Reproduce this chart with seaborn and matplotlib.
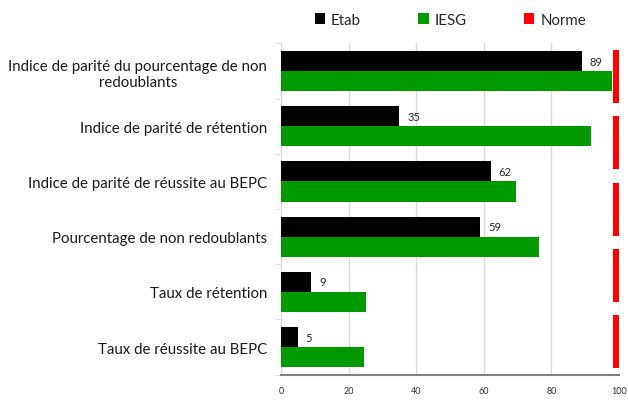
import numpy as np
import pandas as pd
import seaborn as sns
import matplotlib.pyplot as plt
from matplotlib.patches import Patch

# data
categories = [
    "Indice de parité du pourcentage de non\nredoublants",
    "Indice de parité de rétention",
    "Indice de parité de réussite au BEPC",
    "Pourcentage de non redoublants",
    "Taux de rétention",
    "Taux de réussite au BEPC",
]
etab = [89, 35, 62, 59, 9, 5]
iesg = [98, 91.6, 69.5, 76.4, 25.2, 24.6]
# the norm series only has 5 points (own secondary category axis)
norme = [100, 100, 100, 100, 100]
x_ticks = [0, 20, 40, 60, 80, 100]

colors = {"Etab": "#000000", "IESG": "#009900", "Norme": "#ff0000"}

df = pd.DataFrame({
    "categorie": categories * 2,
    "valeur": etab + iesg,
    "serie": ["Etab"] * len(etab) + ["IESG"] * len(iesg),
})

sns.set_style("white")
plt.rcParams["font.family"] = ["Lato", "DejaVu Sans"]

fig = plt.figure(figsize=(6.28, 4.10), dpi=100)
ax = fig.add_axes([0.4475, 0.0837, 0.5382, 0.8078])

sns.barplot(data=df, x="valeur", y="categorie", hue="serie", orient="h",
            order=categories, hue_order=["Etab", "IESG"],
            palette=[colors["Etab"], colors["IESG"]], saturation=1, width=0.73,
            linewidth=0, legend=False, ax=ax, zorder=3)

# value labels on Etab bars
for i, v in enumerate(etab):
    ax.text(v + 2.3, i - 0.18, str(v), va="center", ha="left", fontsize=8,
            color="#262626")

ax.set_xlim(0, 100)
ax.set_ylim(len(categories) - 0.5, -0.5)
ax.set_xticks(x_ticks)
ax.set_xticklabels([str(t) for t in x_ticks], fontsize=6.5, color="#333333")
ax.tick_params(axis="x", length=0, pad=8)
ax.set_yticks(range(len(categories)))
ax.set_yticklabels(categories, fontsize=10.8, color="#1a1a1a")
for lbl in ax.get_yticklabels():
    lbl.set_multialignment("center")
ax.tick_params(axis="y", which="major", length=0, pad=10)
ax.set_yticks(np.arange(-0.5, len(categories)), minor=True)
ax.tick_params(axis="y", which="minor", length=4, color="#d9d9d9", left=True)

ax.xaxis.grid(True, color="#d9d9d9", linewidth=1, zorder=0)
ax.yaxis.grid(False)
ax.set_axisbelow(True)
ax.set_xlabel("")
ax.set_ylabel("")
for s in ["top", "right"]:
    ax.spines[s].set_visible(False)
ax.spines["left"].set_color("#d9d9d9")
ax.spines["bottom"].set_color("#808080")
ax.spines["bottom"].set_linewidth(1.5)

# Norme on its own secondary category axis, thin red marker ending at the norm
ax2 = ax.twinx()
mark_w = 1.9
ax2.barh(np.arange(len(norme)), [mark_w] * len(norme),
         left=np.array(norme) - mark_w, height=0.8, color=colors["Norme"],
         linewidth=0, zorder=3)
ax2.set_ylim(len(norme) - 0.5, -0.5)
ax2.set_xlim(0, 100)
ax2.set_yticks([])
for s in ax2.spines.values():
    s.set_visible(False)

handles = [Patch(facecolor=colors[k], edgecolor="none", label=k) for k in ["Etab", "IESG", "Norme"]]
fig.legend(handles=handles, loc="center", bbox_to_anchor=(0.717, 0.949), ncol=3,
           frameon=False, fontsize=10.8, handlelength=0.7, handleheight=0.7,
           handletextpad=0.4, columnspacing=3.8)

fig.savefig("out.png", dpi=100)
